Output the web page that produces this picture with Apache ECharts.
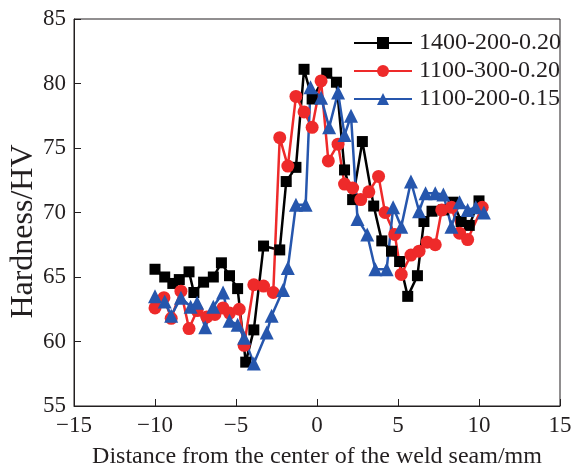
<!DOCTYPE html>
<html>
<head>
<meta charset="utf-8">
<script src="https://cdn.jsdelivr.net/npm/echarts@6/dist/echarts.min.js"></script>
<style>
  html, body { margin: 0; padding: 0; background: #fff; }
  #chart { width: 579px; height: 470px; }
</style>
</head>
<body>
<div id="chart"></div>
<script>
// series names
const names = ["1400-200-0.20", "1100-300-0.20", "1100-200-0.15"];

// 1400-200-0.20 (black squares)
const blackX = [-10, -9.4, -8.9, -8.5, -7.9, -7.6, -7.0, -6.4, -5.9, -5.4, -4.9, -4.4, -3.9, -3.3, -2.3, -1.9, -1.3, -0.8, -0.3, 0.6, 1.2, 1.7, 2.2, 2.8, 3.5, 4.0, 4.6, 5.1, 5.6, 6.2, 6.6, 7.1, 7.8, 8.4, 8.9, 9.4, 10.0];
const blackY = [65.6, 65.0, 64.5, 64.8, 65.4, 63.8, 64.6, 65.0, 66.1, 65.1, 64.1, 58.4, 60.9, 67.4, 67.1, 72.4, 73.5, 81.1, 78.8, 80.8, 80.1, 73.3, 71.0, 75.5, 70.5, 67.8, 67.0, 66.2, 63.5, 65.1, 69.3, 70.1, 70.2, 70.8, 69.3, 69.0, 70.9];

// 1100-300-0.20 (red circles)
const redX = [-10.0, -9.45, -9.0, -8.4, -7.9, -7.4, -6.8, -6.3, -5.8, -5.4, -4.8, -4.5, -3.9, -3.3, -2.7, -2.3, -1.8, -1.3, -0.8, -0.3, 0.25, 0.7, 1.3, 1.7, 2.2, 2.7, 3.2, 3.8, 4.2, 4.8, 5.2, 5.8, 6.3, 6.8, 7.3, 7.7, 8.3, 8.8, 9.3, 10.2];
const redY = [62.6, 63.4, 61.8, 63.9, 61.0, 62.4, 61.9, 62.1, 62.6, 62.2, 62.5, 59.7, 64.4, 64.3, 63.8, 75.8, 73.6, 79.0, 77.8, 76.6, 80.2, 74.0, 75.3, 72.2, 71.9, 71.0, 71.6, 72.8, 70.0, 68.3, 65.2, 66.7, 67.0, 67.7, 67.5, 70.2, 70.4, 68.4, 67.9, 70.4];

// 1100-200-0.15 (blue triangles)
const blueX = [-10.0, -9.4, -9.0, -8.4, -7.8, -7.4, -6.9, -6.4, -5.8, -5.4, -4.9, -4.5, -3.9, -3.1, -2.8, -2.1, -1.8, -1.3, -0.7, -0.4, 0.25, 0.75, 1.3, 1.7, 2.1, 2.5, 3.1, 3.6, 4.3, 4.7, 5.2, 5.8, 6.3, 6.7, 7.3, 7.8, 8.3, 8.8, 9.3, 9.8, 10.3];
const blueY = [63.5, 63.1, 62.0, 63.4, 62.7, 63.0, 61.1, 62.7, 63.8, 61.6, 61.3, 60.3, 58.3, 60.7, 62.0, 64.0, 65.7, 70.6, 70.6, 79.7, 78.9, 76.6, 79.3, 76.0, 77.5, 69.5, 68.3, 65.6, 65.6, 70.4, 68.9, 72.4, 70.1, 71.5, 71.5, 71.4, 68.9, 70.8, 70.2, 70.4, 70.0];

const xTicks = [-15, -10, -5, 0, 5, 10, 15];
const yTicks = [55, 60, 65, 70, 75, 80, 85];

const ink = "#231f20";
const serif = "'Liberation Serif', 'Times New Roman', serif";

let pairs = (xs, ys) => xs.map((x, i) => [x, ys[i]]);

let chart = echarts.init(document.getElementById("chart"), null, { renderer: "canvas" });

let makeSeries = (name, data, color, symbol, size) => ({
  name: name,
  type: "line",
  data: data,
  symbol: symbol,
  symbolSize: size,
  showAllSymbol: true,
  lineStyle: { color: color, width: 2.5 },
  itemStyle: { color: color },
  emphasis: { disabled: true },
});

let option = {
  animation: false,
  grid: {
    left: 74,
    right: 19,
    top: 19,
    bottom: 64,
    outerBoundsMode: "none",
    containLabel: false,
    show: true,
    borderColor: ink,
    borderWidth: 1,
  },
  legend: {
    left: 348,
    top: 26,
    orient: "vertical",
    itemWidth: 58,
    itemHeight: 15,
    itemGap: 4,
    textStyle: { fontFamily: serif, fontSize: 24, color: ink, padding: [0, 0, 0, 2] },
    data: names,
  },
  xAxis: {
    type: "value",
    min: xTicks[0],
    max: xTicks[xTicks.length - 1],
    interval: 5,
    name: "Distance from the center of the weld seam/mm",
    nameLocation: "middle",
    nameGap: 39,
    nameMoveOverlap: false,
    nameTextStyle: { fontFamily: serif, fontSize: 24, color: ink },
    axisLine: { show: true, onZero: false, lineStyle: { color: ink, width: 1 } },
    axisTick: { show: true, inside: true, length: 7, lineStyle: { color: ink } },
    axisLabel: {
      fontFamily: serif,
      fontSize: 23,
      color: ink,
      margin: 8,
      formatter: (v) => (v < 0 ? "\u2212" + Math.abs(v) : String(v)),
    },
    splitLine: { show: false },
  },
  yAxis: {
    type: "value",
    min: yTicks[0],
    max: yTicks[yTicks.length - 1],
    interval: 5,
    name: "Hardness/HV",
    nameLocation: "middle",
    nameGap: 34,
    nameMoveOverlap: false,
    nameTextStyle: { fontFamily: serif, fontSize: 32, color: ink, padding: [0, 38, 0, 0] },
    axisLine: { show: true, onZero: false, lineStyle: { color: ink, width: 1 } },
    axisTick: { show: true, inside: true, length: 7, lineStyle: { color: ink } },
    axisLabel: { fontFamily: serif, fontSize: 23, color: ink, margin: 8 },
    splitLine: { show: false },
  },
  series: [
    makeSeries(names[0], pairs(blackX, blackY), "#000000", "rect", 11),
    makeSeries(names[1], pairs(redX, redY), "#ee2a2a", "circle", 13),
    makeSeries(names[2], pairs(blueX, blueY), "#2656ad", "triangle", 14),
  ],
};

chart.setOption(option);
</script>
</body>
</html>
